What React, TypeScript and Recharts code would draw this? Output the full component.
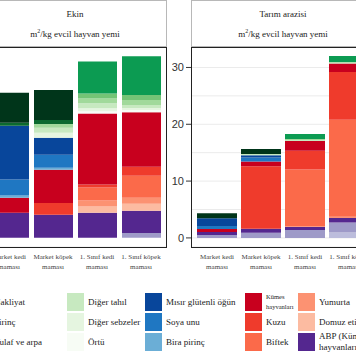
import { BarChart, Bar, XAxis, YAxis, CartesianGrid } from 'recharts';

// kategoriler (x ekseni)
const categories = ['Market kedi maması', 'Market köpek maması', '1. Sınıf kedi maması', '1. Sınıf köpek maması'];
const categoryLines = [
  ['Market kedi', 'maması'],
  ['Market köpek', 'maması'],
  ['1. Sınıf kedi', 'maması'],
  ['1. Sınıf köpek', 'maması'],
];

// seri sırası = lejant sırası = çubuğun üstünden altına
const seriesKeys = [
  'g1', 'g2', 'g3', 'nakliyat', 'pirinc', 'yulaf', 'digerTahil', 'digerSebze', 'ortu',
  'misirGluten', 'soya', 'biraPirinc', 'kumes', 'kuzu', 'biftek', 'yumurta', 'domuz', 'abp',
  'p1', 'p2', 'p3',
];
const seriesNames = [
  '', '', '', 'Nakliyat', 'Pirinç', 'Yulaf ve arpa', 'Diğer tahıl', 'Diğer sebzeler', 'Örtü',
  'Mısır glütenli öğün', 'Soya unu', 'Bira pirinç', 'Kümes hayvanları', 'Kuzu', 'Biftek', 'Yumurta', 'Domuz eti',
  'ABP (Kümes hayvanları)', '', '', '',
];
const seriesColors = [
  '#00351a', '#0b6a2f', '#0c9b52', '#41ab5d', '#74c476', '#a1d99b', '#c7e9c0', '#e5f5e0', '#f7fcf5',
  '#08469b', '#1f77c2', '#6baed6', '#c8001e', '#ef3b2c', '#fb6a4a', '#fc9272', '#fcbba1', '#54278f',
  '#756bb1', '#9e9ac8', '#bcbddc',
];

// Ekin paneli - her çubuk için değerler (seri sırasında)
const ekinMarketKedi = [0.98, 0.1, 0, 0, 0, 0, 0, 0, 0, 1.76, 0.52, 0.07, 0.49, 0, 0, 0, 0, 0.82, 0, 0, 0];
const ekinMarketKopek = [0.98, 0.13, 0, 0, 0, 0.13, 0.16, 0.16, 0, 0.56, 0.42, 0.07, 1.08, 0.39, 0, 0, 0, 0.75, 0, 0, 0];
const ekinSinifKedi = [0, 0, 1.05, 0, 0.16, 0.16, 0.16, 0.1, 0.07, 0, 0, 0, 2.32, 0.1, 0.42, 0.2, 0.2, 0.82, 0, 0, 0];
const ekinSinifKopek = [0, 0, 1.27, 0, 0.16, 0.16, 0.1, 0.07, 0.07, 0, 0, 0, 1.78, 0.29, 0.72, 0.2, 0.23, 0.72, 0, 0.16, 0];

// Tarım arazisi paneli
const arazMarketKedi = [0.87, 0, 0, 0, 0, 0, 0, 0, 0, 1.4, 0.52, 0, 0.52, 0, 0, 0, 0, 0.52, 0, 0.52, 0];
const arazMarketKopek = [0.9, 0, 0, 0, 0, 0, 0.2, 0, 0, 0.4, 0.7, 0, 0.85, 11.0, 0, 0, 0, 0.7, 0, 0.9, 0];
const arazSinifKedi = [0, 0, 0.87, 0, 0, 0.2, 0.15, 0, 0, 0, 0, 0, 1.75, 3.3, 9.95, 0.15, 0, 0.52, 0, 1.4, 0];
const arazSinifKopek = [0, 0, 1.05, 0, 0, 0.13, 0.13, 0, 0, 0, 0, 0, 1.48, 8.4, 17.1, 0.2, 0, 0.8, 0, 1.75, 0.96];

const ekinTicks = [0, 1, 2, 3, 4, 5, 6];
const arazTicks = [0, 5, 10, 15, 20, 25, 30];

const buildRows = (bars: number[][]) =>
  categories.map((name, i) => {
    const row: any = { name };
    seriesKeys.forEach((k, j) => {
      row[k] = bars[i][j];
    });
    return row;
  });

const ekinData = buildRows([ekinMarketKedi, ekinMarketKopek, ekinSinifKedi, ekinSinifKopek]);
const arazData = buildRows([arazMarketKedi, arazMarketKopek, arazSinifKedi, arazSinifKopek]);

const SERIF = '"Liberation Serif", "Times New Roman", serif';
const SANS = '"Liberation Sans", Arial, sans-serif';

const CategoryTick = ({ x, y, payload }: any) => {
  const lines = categoryLines[categories.indexOf(payload.value)] || [payload.value];
  return (
    <text x={x} y={y} textAnchor="middle" fontSize={7} fill="#444" fontFamily={SERIF}>
      <tspan x={x} dy={11.5}>{lines[0]}</tspan>
      <tspan x={x} dy={10}>{lines[1]}</tspan>
    </text>
  );
};

const ValueTick = ({ x, y, payload }: any) => {
  if (payload.value % 10 !== 0) return <g />;
  return (
    <g>
      <line x1={x + 2} x2={x + 7} y1={y} y2={y} stroke="#333" />
      <text x={x} y={y} dy={4} textAnchor="end" fontSize={11} fill="#333" fontFamily={SANS}>
        {payload.value}
      </text>
    </g>
  );
};

const stackedBars = (size: number) =>
  seriesKeys
    .map((k, j) => (
      <Bar
        key={k}
        dataKey={k}
        stackId="a"
        fill={seriesColors[j]}
        barSize={size}
        isAnimationActive={false}
      />
    ))
    .reverse();

// lejant sütunları (sütun sırasına göre)
const legendCols = [
  { x: -27, items: [3, 4, 5] },
  { x: 67, items: [6, 7, 8] },
  { x: 145, items: [9, 10, 11] },
  { x: 245, items: [12, 13, 14] },
  { x: 298, items: [15, 16, 17] },
];

const LegendLabel = ({ idx }: { idx: number }) => {
  if (idx === 12) {
    return (
      <div style={{ fontSize: 6.5, lineHeight: '10px' }}>
        Kümes
        <br />
        hayvanları
      </div>
    );
  }
  if (idx === 17) {
    return (
      <div style={{ fontSize: 9, lineHeight: '11px' }}>
        ABP (Kümes
        <br />
        hayvanları)
      </div>
    );
  }
  return <div style={{ fontSize: 9 }}>{seriesNames[idx]}</div>;
};

export default function App() {
  return (
    <div
      style={{
        position: 'absolute',
        left: 0,
        top: 0,
        width: 356,
        height: 364,
        overflow: 'hidden',
        background: '#fff',
      }}
    >
      {/* Ekin paneli */}
      <div style={{ position: 'absolute', left: -60, top: 0 }}>
        <BarChart width={227} height={280} data={ekinData} margin={{ top: 47, right: 0, bottom: 3, left: 0 }}>
          <CartesianGrid vertical={false} stroke="#ebebeb" />
          <XAxis
            dataKey="name"
            type="category"
            height={30}
            interval={0}
            padding={{ left: 4, right: 4 }}
            tickLine={false}
            axisLine={false}
            tickSize={0}
            tickMargin={0}
            tick={<CategoryTick />}
          />
          <YAxis
            width={43}
            type="number"
            domain={[-0.3, 6.23]}
            allowDataOverflow
            ticks={ekinTicks}
            interval={0}
            axisLine={false}
            tickLine={false}
            tick={false}
          />
          {stackedBars(39)}
        </BarChart>
      </div>

      {/* Tarım arazisi paneli */}
      <div style={{ position: 'absolute', left: 161, top: 0 }}>
        <BarChart width={214} height={280} data={arazData} margin={{ top: 47, right: 0, bottom: 3, left: 0 }}>
          <CartesianGrid vertical={false} stroke="#ebebeb" />
          <XAxis
            dataKey="name"
            type="category"
            height={30}
            interval={0}
            padding={{ left: 4, right: 4 }}
            tickLine={false}
            axisLine={false}
            tickSize={0}
            tickMargin={0}
            tick={<CategoryTick />}
          />
          <YAxis
            width={30}
            type="number"
            domain={[-1.6, 33.6]}
            allowDataOverflow
            ticks={arazTicks}
            interval={0}
            axisLine={false}
            tickLine={false}
            tickSize={5}
            tickMargin={2}
            tick={<ValueTick />}
          />
          {stackedBars(40)}
        </BarChart>
      </div>

      {/* şerit başlıkları */}
      {[
        { left: -17, title: 'Ekin' },
        { left: 191, title: 'Tarım arazisi' },
      ].map((s) => (
        <div
          key={s.title}
          style={{
            position: 'absolute',
            left: s.left,
            top: 0,
            width: 184,
            height: 47,
            boxSizing: 'border-box',
            border: '1px solid #b8b8b8',
            fontFamily: SERIF,
            color: '#222',
            fontSize: 9,
            textAlign: 'center',
          }}
        >
          <div style={{ position: 'absolute', top: 8, width: '100%' }}>{s.title}</div>
          <div style={{ position: 'absolute', top: 27, width: '100%' }}>
            m<sup style={{ fontSize: 6 }}>2</sup>/kg evcil hayvan yemi
          </div>
        </div>
      ))}

      {/* panel çerçeveleri */}
      {[-17, 191].map((l) => (
        <div
          key={l}
          style={{
            position: 'absolute',
            left: l,
            top: 47,
            width: 184,
            height: 201,
            boxSizing: 'border-box',
            border: '1px solid #222',
            pointerEvents: 'none',
          }}
        />
      ))}

      {/* lejant */}
      {legendCols.map((col) =>
        col.items.map((idx, r) => (
          <div
            key={idx}
            style={{
              position: 'absolute',
              left: col.x,
              top: 293 + r * 20,
              height: 18,
              display: 'flex',
              alignItems: 'center',
              fontFamily: SERIF,
              color: '#222',
              whiteSpace: 'nowrap',
            }}
          >
            <div style={{ width: 17, height: 18, background: seriesColors[idx], marginRight: 4 }} />
            <LegendLabel idx={idx} />
          </div>
        ))
      )}
    </div>
  );
}
